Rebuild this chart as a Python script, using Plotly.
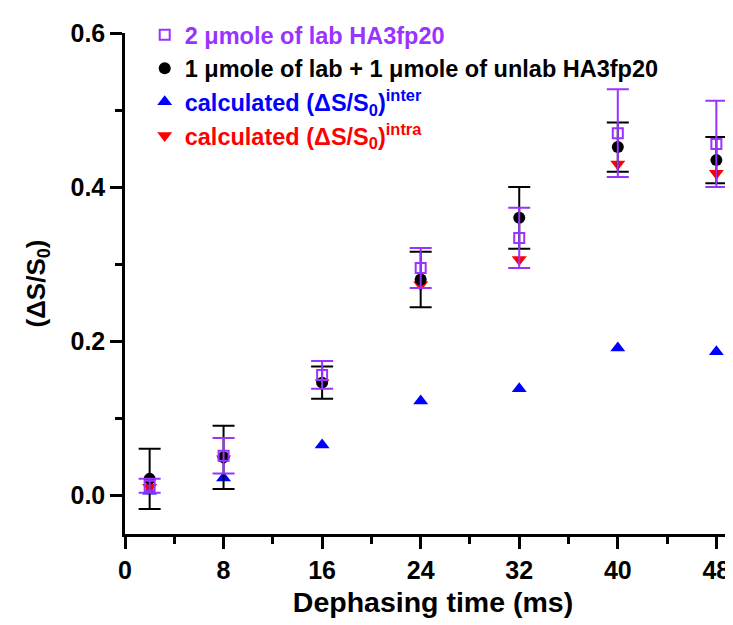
import plotly.graph_objects as go

# Data
time_ms = [2, 8, 16, 24, 32, 40, 48]

lab2 = [0.012, 0.051, 0.156, 0.295, 0.334, 0.470, 0.456]
lab2_err = [0.009, 0.023, 0.018, 0.026, 0.039, 0.057, 0.056]

mix = [0.021, 0.049, 0.146, 0.280, 0.360, 0.452, 0.435]
mix_err = [0.039, 0.041, 0.021, 0.036, 0.040, 0.032, 0.030]

calc_inter = [0.005, 0.022, 0.065, 0.122, 0.138, 0.191, 0.186]
calc_intra = [0.010, 0.047, 0.146, 0.273, 0.306, 0.430, 0.418]

x_ticks = [0, 8, 16, 24, 32, 40, 48]

PURPLE = "#9933FF"
BLUE = "#0000FF"
RED = "#FF0000"
BLACK = "#000000"
FONT = "Liberation Sans, Arial, Helvetica, sans-serif"

fig = go.Figure()

fig.add_trace(go.Scatter(
    x=time_ms, y=calc_inter, mode="markers",
    name=f"<span style='color:{BLUE}'>calculated (ΔS/S<sub>0</sub>)<sup>inter</sup></span>",
    marker=dict(symbol="triangle-up", size=13, color=BLUE),
    legendrank=3,
))
fig.add_trace(go.Scatter(
    x=time_ms, y=calc_intra, mode="markers",
    name=f"<span style='color:{RED}'>calculated (ΔS/S<sub>0</sub>)<sup>intra</sup></span>",
    marker=dict(symbol="triangle-down", size=13, color=RED),
    legendrank=4,
))
fig.add_trace(go.Scatter(
    x=time_ms, y=mix, mode="markers",
    name=f"<span style='color:{BLACK}'>1 μmole of lab + 1 μmole of unlab HA3fp20</span>",
    marker=dict(symbol="circle", size=12, color=BLACK),
    error_y=dict(type="data", array=mix_err, visible=True, color=BLACK, thickness=2, width=11),
    legendrank=2,
))
fig.add_trace(go.Scatter(
    x=time_ms, y=lab2, mode="markers",
    name=f"<span style='color:{PURPLE}'>2 μmole of lab HA3fp20</span>",
    marker=dict(symbol="square-open", size=10, color=PURPLE, line=dict(width=2, color=PURPLE)),
    error_y=dict(type="data", array=lab2_err, visible=True, color=PURPLE, thickness=2, width=11),
    legendrank=1,
))

fig.update_layout(
    width=733, height=625,
    margin=dict(l=117, r=0, t=25, b=99),
    paper_bgcolor="white", plot_bgcolor="white",
    font=dict(family=FONT, size=22, color=BLACK, weight="bold"),
    showlegend=True,
    legend=dict(
        x=0.032, y=1.04, xanchor="left", yanchor="top",
        bgcolor="rgba(0,0,0,0)", borderwidth=0,
        font=dict(family=FONT, size=23.5, weight="bold"),
        itemsizing="trace",
    ),
)

fig.update_xaxes(
    range=[0, 50],
    tickmode="array", tickvals=x_ticks, ticktext=[str(v) for v in x_ticks],
    ticks="outside", ticklen=12, tickwidth=2.5, tickcolor=BLACK,
    minor=dict(tickmode="linear", tick0=0, dtick=4, ticks="outside", ticklen=7, tickwidth=2.5, tickcolor=BLACK),
    showline=True, linewidth=2.5, linecolor=BLACK,
    showgrid=False, zeroline=False,
    tickfont=dict(family=FONT, size=25, weight="bold"),
    title=dict(text="Dephasing time (ms)", font=dict(family=FONT, size=28.5, weight="bold"), standoff=10),
)
fig.update_yaxes(
    range=[-0.0506, 0.6001],
    tickmode="linear", tick0=0, dtick=0.2, tickformat=".1f",
    ticks="outside", ticklen=12, tickwidth=2.5, tickcolor=BLACK,
    minor=dict(tickmode="linear", tick0=0.1, dtick=0.2, ticks="outside", ticklen=7, tickwidth=2.5, tickcolor=BLACK),
    showline=True, linewidth=2.5, linecolor=BLACK,
    showgrid=False, zeroline=False,
    tickfont=dict(family=FONT, size=25, weight="bold"),
    title=dict(text="(ΔS/S<sub>0</sub>)", font=dict(family=FONT, size=26, weight="bold"), standoff=18),
)

fig.write_html("out.html")
